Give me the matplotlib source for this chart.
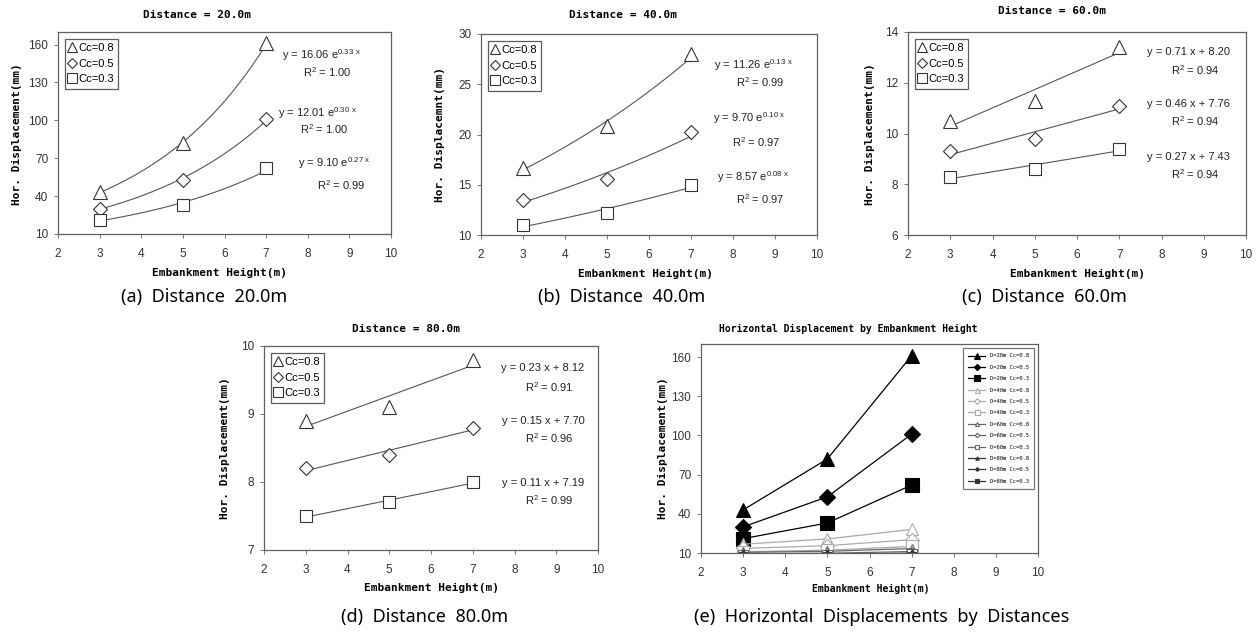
import numpy as np
import matplotlib
matplotlib.use("Agg")
import matplotlib.pyplot as plt
from matplotlib.lines import Line2D

# ---------------- data ----------------
heights = [3, 5, 7]
cc_labels = ["Cc=0.8", "Cc=0.5", "Cc=0.3"]

d20 = {"Cc=0.8": [43, 82, 161], "Cc=0.5": [30, 53, 101], "Cc=0.3": [21, 33, 62]}
d40 = {"Cc=0.8": [16.7, 20.8, 28.0], "Cc=0.5": [13.5, 15.6, 20.2], "Cc=0.3": [11.0, 12.2, 15.0]}
d60 = {"Cc=0.8": [10.5, 11.3, 13.4], "Cc=0.5": [9.3, 9.8, 11.1], "Cc=0.3": [8.3, 8.6, 9.4]}
d80 = {"Cc=0.8": [8.9, 9.1, 9.8], "Cc=0.5": [8.2, 8.4, 8.8], "Cc=0.3": [7.5, 7.7, 8.0]}

eq20 = [(r"y = 16.06 e$^{\mathrm{0.33\ x}}$", r"R$^{\mathrm{2}}$ = 1.00"),
        (r"y = 12.01 e$^{\mathrm{0.30\ x}}$", r"R$^{\mathrm{2}}$ = 1.00"),
        (r"y = 9.10 e$^{\mathrm{0.27\ x}}$", r"R$^{\mathrm{2}}$ = 0.99")]
eq40 = [(r"y = 11.26 e$^{\mathrm{0.13\ x}}$", r"R$^{\mathrm{2}}$ = 0.99"),
        (r"y = 9.70 e$^{\mathrm{0.10\ x}}$", r"R$^{\mathrm{2}}$ = 0.97"),
        (r"y = 8.57 e$^{\mathrm{0.08\ x}}$", r"R$^{\mathrm{2}}$ = 0.97")]
eq60 = [("y = 0.71 x + 8.20", r"R$^{\mathrm{2}}$ = 0.94"),
        ("y = 0.46 x + 7.76", r"R$^{\mathrm{2}}$ = 0.94"),
        ("y = 0.27 x + 7.43", r"R$^{\mathrm{2}}$ = 0.94")]
eq80 = [("y = 0.23 x + 8.12", r"R$^{\mathrm{2}}$ = 0.91"),
        ("y = 0.15 x + 7.70", r"R$^{\mathrm{2}}$ = 0.96"),
        ("y = 0.11 x + 7.19", r"R$^{\mathrm{2}}$ = 0.99")]

x_ticks = [2, 3, 4, 5, 6, 7, 8, 9, 10]

W, H = 1260, 632
plt.rcParams["mathtext.fontset"] = "custom"
plt.rcParams["mathtext.rm"] = "Liberation Sans"
fig = plt.figure(figsize=(W / 100, H / 100), dpi=100)

MONO = "DejaVu Sans Mono"
TICKF = "Liberation Sans"
CAPF = "Noto Sans"
markers = ["^", "D", "s"]
msizes = [10, 7, 9]


def px_axes(l, t, w, h):
    return fig.add_axes([l / W, (H - t - h) / H, w / W, h / H])


def ftext(x, y, s, **kw):
    fig.text(x / W, (H - y) / H, s, **kw)


def style(ax, ylim, yticks):
    ax.set_xlim(2, 10)
    ax.set_xticks(x_ticks)
    ax.set_ylim(*ylim)
    ax.set_yticks(yticks)
    for sp in ax.spines.values():
        sp.set_color("#606060")
        sp.set_linewidth(0.9)
    ax.tick_params(direction="out", length=3, width=0.6, color="#606060",
                   labelsize=8.5, labelcolor="#333333")
    ax.tick_params(axis="x", pad=7)
    ax.tick_params(axis="y", pad=4)
    for lab in ax.get_xticklabels() + ax.get_yticklabels():
        lab.set_fontfamily(TICKF)


def panel(box, data, eqs, kind, ylim, yticks, title, tpos, xlpos, ylpos,
          eqpos, cap, cappos, ylabel="Hor. Displacement(mm)"):
    ax = px_axes(*box)
    xs = np.array(heights, dtype=float)
    xf = np.linspace(3, 7, 100)
    handles = []
    for i, key in enumerate(cc_labels):
        ys = np.array(data[key], dtype=float)
        if kind == "exp":
            b, a = np.polyfit(xs, np.log(ys), 1)
            yf = np.exp(a) * np.exp(b * xf)
        else:
            b, a = np.polyfit(xs, ys, 1)
            yf = a + b * xf
        ax.plot(xf, yf, color="#555555", lw=0.8)
        ax.plot(xs, ys, linestyle="none", marker=markers[i], ms=msizes[i],
                mfc="white", mec="#333333", mew=0.8)
        handles.append(Line2D([], [], linestyle="none", marker=markers[i],
                              ms=msizes[i] * 0.75, mfc="white", mec="#333333",
                              mew=0.8, label=key))
    leg = ax.legend(handles=handles, loc="upper left", frameon=True,
                    fancybox=False, edgecolor="#333333",
                    handlelength=0.6, handletextpad=0.2, borderpad=0.4,
                    labelspacing=0.5, borderaxespad=0.6,
                    prop={"family": TICKF, "size": 8})
    leg.get_frame().set_linewidth(0.9)
    for (e1, e2), (xp, y1, y2) in zip(eqs, eqpos):
        ax.text(xp, y1, e1, transform=ax.transAxes, ha="center", va="center",
                fontsize=8, family=TICKF, color="#222222")
        ax.text(xp + 0.02, y2, e2, transform=ax.transAxes, ha="center",
                va="center", fontsize=8, family=TICKF, color="#222222")
    style(ax, ylim, yticks)
    ftext(tpos[0], tpos[1], title, ha="center", va="center", fontsize=8,
          family=MONO, fontweight="bold")
    ftext(xlpos[0], xlpos[1], "Embankment Height(m)", ha="center",
          va="center", fontsize=8, family=MONO, fontweight="bold")
    ftext(ylpos[0], ylpos[1], ylabel, ha="center", va="center", fontsize=8,
          family=MONO, fontweight="bold", rotation=90)
    ftext(cappos[0], cappos[1], cap, ha="center", va="center", fontsize=13,
          family=CAPF)
    return ax


panel((58, 32, 333, 202), d20, eq20, "exp", (10, 170), [10, 40, 70, 100, 130, 160],
      "Distance = 20.0m", (197, 15), (219, 273), (17, 134),
      [(0.79, 0.886, 0.80), (0.78, 0.60, 0.52), (0.83, 0.35, 0.24)],
      "(a)  Distance  20.0m", (204, 297))
panel((481, 34, 336, 201), d40, eq40, "exp", (10, 30), [10, 15, 20, 25, 30],
      "Distance = 40.0m", (623, 15), (645, 274), (440, 134),
      [(0.81, 0.846, 0.76), (0.80, 0.58, 0.46), (0.81, 0.29, 0.18)],
      "(b)  Distance  40.0m", (622, 297), ylabel="Hor. Displacemnt(mm)")
panel((908, 32, 338, 203), d60, eq60, "lin", (6, 14), [6, 8, 10, 12, 14],
      "Distance = 60.0m", (1052, 11), (1077, 274), (870, 134),
      [(0.83, 0.90, 0.81), (0.83, 0.645, 0.56), (0.83, 0.385, 0.30)],
      "(c)  Distance  60.0m", (1044, 297))
panel((264, 346, 334, 204), d80, eq80, "lin", (7, 10), [7, 8, 9, 10],
      "Distance = 80.0m", (406, 329), (432, 588), (225, 448),
      [(0.835, 0.89, 0.80), (0.835, 0.63, 0.55), (0.835, 0.33, 0.245)],
      "(d)  Distance  80.0m", (425, 617))

# ---------------- panel (e) ----------------
ax = px_axes(701, 344, 337, 209)
groups = [("D=20m", d20, "black", "black", 10),
          ("D=40m", d40, "#aaaaaa", "white", 9),
          ("D=60m", d60, "#666666", "white", 7),
          ("D=80m", d80, "#333333", "#333333", 6)]
for gname, data, col, fill, ms in groups:
    for i, key in enumerate(cc_labels):
        ax.plot(heights, data[key], color=col, lw=0.9, marker=markers[i],
                ms=ms if markers[i] != "D" else ms * 0.8, mfc=fill, mec=col,
                mew=0.8, label=f"{gname} {key}")
style(ax, (10, 170), [10, 40, 70, 100, 130, 160])
leg = ax.legend(loc="upper right", frameon=True, fancybox=False,
                edgecolor="#555555", markerscale=0.4,
                handlelength=3, labelspacing=1.15, borderpad=0.9,
                borderaxespad=0.8, prop={"family": MONO, "size": 4})
leg.get_frame().set_linewidth(0.9)
ftext(848, 329, "Horizontal Displacement by Embankment Height", ha="center",
      va="center", fontsize=7, family=MONO, fontweight="bold")
ftext(871, 589, "Embankment Height(m)", ha="center", va="center", fontsize=7,
      family=MONO, fontweight="bold")
ftext(663, 448, "Hor. Displacement(mm)", ha="center", va="center", fontsize=8,
      family=MONO, fontweight="bold", rotation=90)
ftext(882, 617, "(e)  Horizontal  Displacements  by  Distances", ha="center",
      va="center", fontsize=13, family=CAPF)

fig.savefig("out.png", dpi=100)
